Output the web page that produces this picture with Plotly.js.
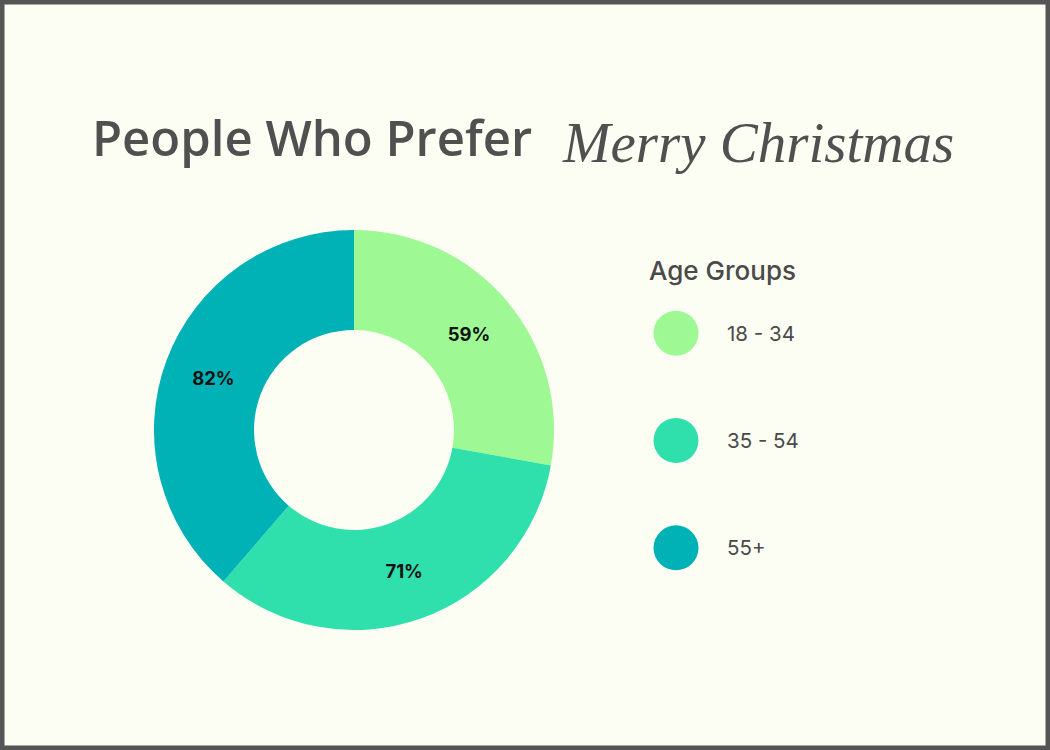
<!DOCTYPE html>
<html>
<head>
<meta charset="utf-8">
<script src="https://cdn.plot.ly/plotly-3.0.1.min.js"></script>
<style>
  html, body { margin: 0; padding: 0; background: #fcfdf3; }
  #myDiv { width: 1050px; height: 750px; }
</style>
</head>
<body>
<div id="myDiv"></div>
<script>
// age groups and share who prefer "Merry Christmas"
var groups = ['18 - 34', '35 - 54', '55+'];
var shares = [59, 71, 82];
var colors = ['#9ef994', '#2fdfac', '#00b1b6'];

var donut = {
  type: 'pie',
  labels: groups,
  values: shares,
  sort: false,
  direction: 'clockwise',
  rotation: 0,
  hole: 0.5,
  marker: {colors: colors, line: {width: 0}},
  texttemplate: '%{value}%',
  textposition: 'inside',
  insidetextorientation: 'horizontal',
  textfont: {family: 'Inter', size: 18.5, color: '#111111', weight: 700},
  domain: {x: [154 / 1050, 554 / 1050], y: [1 - 630 / 750, 1 - 230 / 750]},
  showlegend: false,
  hoverinfo: 'none'
};

// hand-made legend: one big dot per group
var dots = {
  type: 'scatter',
  mode: 'markers',
  x: groups.map(function () { return 0; }),
  y: groups,
  marker: {size: 45, color: colors, symbol: 'circle'},
  xaxis: 'x',
  yaxis: 'y',
  showlegend: false,
  hoverinfo: 'none'
};

var legendText = groups.map(function (g) {
  return {
    xref: 'x', yref: 'y', x: 49, y: g,
    text: g, showarrow: false, xanchor: 'left', yanchor: 'middle',
    font: {family: 'Inter', size: 20.5, color: '#4a4a4a'}
  };
});

var layout = {
  width: 1050,
  height: 750,
  margin: {l: 0, r: 0, t: 0, b: 0},
  paper_bgcolor: '#fcfdf3',
  plot_bgcolor: 'rgba(0,0,0,0)',
  xaxis: {domain: [0.6, 0.9], range: [-46, 269], visible: false, fixedrange: true},
  yaxis: {domain: [1 - 601.5 / 750, 1 - 279.5 / 750], type: 'category',
          range: [2.5, -0.5], visible: false, fixedrange: true},
  annotations: [
    {xref: 'paper', yref: 'paper', x: 90 / 1050, y: 1 - 137 / 750,
     text: 'People Who Prefer', showarrow: false, xanchor: 'left', yanchor: 'middle',
     font: {family: 'Open Sans', size: 49, color: '#505050', weight: 600}},
    {xref: 'paper', yref: 'paper', x: 560 / 1050, y: 1 - 142 / 750,
     text: '<i>Merry Christmas</i>', showarrow: false, xanchor: 'left', yanchor: 'middle',
     font: {family: 'Liberation Serif', size: 57, color: '#505050'}},
    {xref: 'paper', yref: 'paper', x: 647 / 1050, y: 1 - 270 / 750,
     text: 'Age Groups', showarrow: false, xanchor: 'left', yanchor: 'middle',
     font: {family: 'Inter', size: 26, color: '#4a4a4a', weight: 500}}
  ].concat(legendText),
  shapes: [
    {type: 'rect', xref: 'paper', yref: 'paper', x0: 0, x1: 1, y0: 0, y1: 1,
     line: {color: '#555555', width: 9}, layer: 'above'}
  ]
};

Plotly.newPlot('myDiv', [donut, dots], layout, {staticPlot: true});
</script>
</body>
</html>
